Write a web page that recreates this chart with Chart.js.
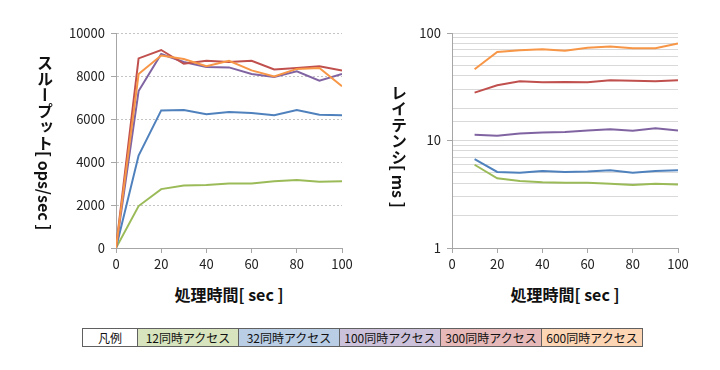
<!DOCTYPE html>
<html lang="ja">
<head>
<meta charset="utf-8">
<script src="https://cdn.jsdelivr.net/npm/chart.js@4.4.1/dist/chart.umd.min.js"></script>
<style>
  body { margin: 0; background: #fff; font-family: "Noto Sans CJK JP", sans-serif; }
  #page { position: relative; width: 720px; height: 370px; overflow: hidden; }
  canvas { position: absolute; top: 0; }
  .ytitle {
    position: absolute; writing-mode: vertical-rl; text-orientation: mixed;
    font-size: 16px; line-height: 20px; width: 20px; font-weight: bold; color: #111; white-space: nowrap;
  }
  .xtitle {
    position: absolute; width: 200px; text-align: center;
    font-size: 16px; line-height: 20px; font-weight: bold; color: #111; white-space: nowrap;
  }
  #legend {
    position: absolute; left: 82px; top: 328px; border-collapse: collapse;
    font-size: 12px; color: #111; table-layout: fixed;
  }
  #legend td { border: 1px solid #606060; height: 17px; padding: 0; text-align: center; line-height: 17px; }
</style>
</head>
<body>
<div id="page">
  <canvas id="throughputChart" width="360" height="280" style="left:0"></canvas>
  <canvas id="latencyChart" width="360" height="280" style="left:360px"></canvas>
  <div class="ytitle" style="left:35px; top:55px">スループット[ ops/sec ]</div>
  <div class="ytitle" style="left:389px; top:85px">レイテンシ[ ms ]</div>
  <div class="xtitle" style="left:129px; top:284px">処理時間[ sec ]</div>
  <div class="xtitle" style="left:465px; top:284px">処理時間[ sec ]</div>
  <table id="legend"><tr id="legendRow"></tr></table>
</div>
<script>
// 経過時間 [sec]
const times = [0, 10, 20, 30, 40, 50, 60, 70, 80, 90, 100];
const latencyTimes = [10, 20, 30, 40, 50, 60, 70, 80, 90, 100];

const seriesNames = ["12同時アクセス", "32同時アクセス", "100同時アクセス", "300同時アクセス", "600同時アクセス"];
const seriesColors = ["#9bbb59", "#4f81bd", "#8064a2", "#c0504d", "#f79646"];
const legendFills = ["#d7e4bd", "#b9cde5", "#ccc1da", "#e6b9b8", "#fcd5b5"];

// スループット [ops/sec]
const throughput12 = [0, 1950, 2740, 2910, 2930, 3000, 3000, 3100, 3160, 3080, 3110];
const throughput32 = [0, 4300, 6400, 6420, 6220, 6330, 6280, 6170, 6420, 6200, 6170];
const throughput100 = [0, 7300, 9020, 8650, 8420, 8400, 8090, 7950, 8220, 7780, 8090];
const throughput300 = [0, 8820, 9210, 8570, 8710, 8650, 8710, 8300, 8370, 8450, 8260];
const throughput600 = [0, 8090, 8950, 8790, 8450, 8710, 8260, 7980, 8330, 8370, 7520];

// レイテンシ [ms]
const latency12 = [5.95, 4.45, 4.2, 4.1, 4.05, 4.05, 3.95, 3.85, 3.95, 3.9];
const latency32 = [6.7, 5.1, 5.0, 5.2, 5.1, 5.15, 5.3, 5.0, 5.2, 5.3];
const latency100 = [11.3, 11.1, 11.6, 11.9, 12.0, 12.4, 12.7, 12.3, 13.0, 12.4];
const latency300 = [27.9, 32.6, 35.5, 34.8, 35.0, 34.8, 36.3, 36.0, 35.5, 36.3];
const latency600 = [46, 66.5, 69, 70.5, 68.5, 73, 75, 72, 72, 80];

const throughputTicks = [0, 2000, 4000, 6000, 8000, 10000];
const latencyLabels = [1, 10, 100];

Chart.defaults.font.family = '"Noto Sans CJK JP", sans-serif';
Chart.defaults.font.size = 13;
Chart.defaults.color = "#222";

const axisColor = "#a6a6a6";

function buildDatasets(xs, seriesList) {
  return seriesList.map((values, i) => ({
    label: seriesNames[i],
    data: values.map((v, j) => ({ x: xs[j], y: v })),
    borderColor: seriesColors[i],
    backgroundColor: seriesColors[i],
    borderWidth: 2,
    pointRadius: 0,
    tension: 0,
    fill: false,
    order: seriesList.length - i,
  }));
}

function xAxis() {
  return {
    type: "linear",
    min: 0,
    max: 100,
    ticks: { stepSize: 20, padding: 3 },
    grid: { drawOnChartArea: false, tickLength: 5, tickColor: axisColor },
    border: { color: axisColor },
    afterFit: (scale) => { scale.height = 32; },
  };
}

function crearGraficoThroughput() {
  const ctx = document.getElementById("throughputChart").getContext("2d");
  return new Chart(ctx, {
    type: "line",
    data: {
      datasets: buildDatasets(times, [throughput12, throughput32, throughput100, throughput300, throughput600]),
    },
    options: {
      responsive: false,
      animation: false,
      layout: { padding: { top: 33, right: 18, left: 0, bottom: 0 } },
      plugins: { legend: { display: false }, tooltip: { enabled: false } },
      scales: {
        x: xAxis(),
        y: {
          min: 0,
          max: 10000,
          afterBuildTicks: (scale) => { scale.ticks = throughputTicks.map((v) => ({ value: v })); },
          ticks: { padding: 6, callback: (value) => String(value) },
          grid: { color: "#c4c4c4", tickLength: 5, tickColor: axisColor },
          border: { color: axisColor, dash: [2, 2] },
          afterFit: (scale) => { scale.width = 116; },
        },
      },
    },
  });
}

function crearGraficoLatency() {
  const ctx = document.getElementById("latencyChart").getContext("2d");
  return new Chart(ctx, {
    type: "line",
    data: {
      datasets: buildDatasets(latencyTimes, [latency12, latency32, latency100, latency300, latency600]),
    },
    options: {
      responsive: false,
      animation: false,
      layout: { padding: { top: 33, right: 42, left: 0, bottom: 0 } },
      plugins: { legend: { display: false }, tooltip: { enabled: false } },
      scales: {
        x: xAxis(),
        y: {
          type: "logarithmic",
          min: 1,
          max: 100,
          ticks: {
            autoSkip: false,
            padding: 6,
            callback: (value) => (latencyLabels.includes(value) ? String(value) : ""),
          },
          grid: {
            color: "#d9d9d9",
            tickLength: 5,
            tickColor: (c) => (c.tick && latencyLabels.includes(c.tick.value) ? axisColor : "rgba(0,0,0,0)"),
          },
          border: { color: axisColor },
          afterFit: (scale) => { scale.width = 92; },
        },
      },
    },
  });
}

function buildLegend() {
  const row = document.getElementById("legendRow");
  const head = document.createElement("td");
  head.textContent = "凡例";
  head.style.width = "54px";
  head.style.background = "#fff";
  row.appendChild(head);
  seriesNames.forEach((name, i) => {
    const td = document.createElement("td");
    td.textContent = name;
    td.style.width = "100px";
    td.style.background = legendFills[i];
    row.appendChild(td);
  });
}

buildLegend();
crearGraficoThroughput();
crearGraficoLatency();
</script>
</body>
</html>
